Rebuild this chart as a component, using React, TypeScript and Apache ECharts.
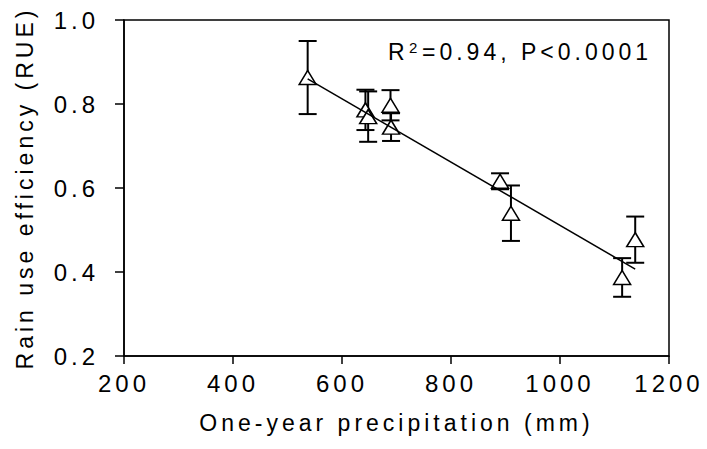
import React, { useEffect, useRef } from 'react';
import * as echarts from 'echarts';

// ---- data ----
const precipitation = [537, 643, 648, 689, 690, 890, 910, 1114, 1138];
const rue = [0.863, 0.786, 0.770, 0.797, 0.745, 0.616, 0.540, 0.387, 0.477];
const rueError = [0.087, 0.048, 0.060, 0.036, 0.033, 0.019, 0.066, 0.046, 0.055];
const fitX = [537, 1138];
const fitY = [0.860, 0.407];
const xMin = 200, xMax = 1200, xStep = 200;
const yMin = 0.2, yMax = 1.0, yStep = 0.2;
const xTitle = 'One-year precipitation (mm)';
const yTitle = 'Rain use efficiency (RUE)';
const statR = 'R';
const statSup = '2';
const statRest = '=0.94, P<0.0001';

const FONT = '"Liberation Sans", Arial, sans-serif';

export default function App() {
  const ref = useRef<HTMLDivElement>(null);
  useEffect(() => {
    document.body.style.margin = '0';
    const chart = echarts.init(ref.current!, null, { renderer: 'svg' });
    const errData = precipitation.map((x, i) => [x, rue[i] - rueError[i], rue[i] + rueError[i]]);
    const ptData = precipitation.map((x, i) => [x, rue[i]]);
    const fitData = fitX.map((x, i) => [x, fitY[i]]);
    const txt = (text: string, x: number, y: number, size: number) => ({
      type: 'text', x, y, z: 10,
      style: { text, fontSize: size, fontFamily: FONT, fill: '#000', align: 'left', verticalAlign: 'middle' },
    });
    chart.setOption({
      animation: false,
      backgroundColor: '#fff',
      textStyle: { fontFamily: FONT, color: '#000' },
      grid: { left: 124, right: 38, top: 20, bottom: 93, show: true, borderColor: '#000', borderWidth: 1.5, backgroundColor: 'transparent' },
      xAxis: {
        type: 'value', min: xMin, max: xMax, interval: xStep,
        name: xTitle, nameLocation: 'middle', nameGap: 55,
        nameTextStyle: { fontSize: 23, fontFamily: FONT, color: '#000' },
        axisLine: { show: true, lineStyle: { color: '#000', width: 1.5 } },
        axisTick: { show: true, inside: false, length: 8, lineStyle: { color: '#000', width: 1.5 } },
        axisLabel: { fontSize: 24, fontFamily: FONT, color: '#000', margin: 15, formatter: (v: number) => String(v) },
        splitLine: { show: false },
      },
      yAxis: {
        type: 'value', min: yMin, max: yMax, interval: yStep,
        name: yTitle, nameLocation: 'middle', nameGap: 88, nameRotate: 90,
        nameTextStyle: { fontSize: 23, fontFamily: FONT, color: '#000' },
        axisLine: { show: true, lineStyle: { color: '#000', width: 1.5 } },
        axisTick: { show: true, inside: false, length: 9, lineStyle: { color: '#000', width: 1.5 } },
        axisLabel: { fontSize: 24, fontFamily: FONT, color: '#000', margin: 25, formatter: (v: number) => v.toFixed(1) },
        splitLine: { show: false },
      },
      graphic: [
        txt(statR, 388, 51.5, 23),
        txt(statSup, 409, 47, 15),
        txt(statRest, 422, 51.5, 23),
      ],
      series: [
        {
          type: 'custom',
          data: errData,
          encode: { x: 0, y: [1, 2] },
          z: 2,
          renderItem: (params: any, api: any) => {
            const x = api.value(0);
            const lo = api.coord([x, api.value(1)]);
            const hi = api.coord([x, api.value(2)]);
            const w = 9;
            const st = { stroke: '#000', lineWidth: 2 };
            return {
              type: 'group',
              children: [
                { type: 'line', shape: { x1: hi[0], y1: hi[1], x2: lo[0], y2: lo[1] }, style: st },
                { type: 'line', shape: { x1: hi[0] - w, y1: hi[1], x2: hi[0] + w, y2: hi[1] }, style: st },
                { type: 'line', shape: { x1: lo[0] - w, y1: lo[1], x2: lo[0] + w, y2: lo[1] }, style: st },
              ],
            };
          },
        },
        {
          type: 'scatter',
          data: ptData,
          symbol: 'triangle',
          symbolSize: [17, 14],
          z: 3,
          itemStyle: { color: '#fff', borderColor: '#000', borderWidth: 1.5, opacity: 1 },
        },
        {
          type: 'line',
          data: fitData,
          showSymbol: false,
          symbol: 'none',
          z: 4,
          lineStyle: { color: '#000', width: 1.5 },
        },
      ],
    });
    return () => chart.dispose();
  }, []);
  return (
    <>
      <style>{'#chartbox text { letter-spacing: 4px; }'}</style>
      <div id="chartbox" ref={ref} style={{ width: 707, height: 449 }} />
    </>
  );
}
